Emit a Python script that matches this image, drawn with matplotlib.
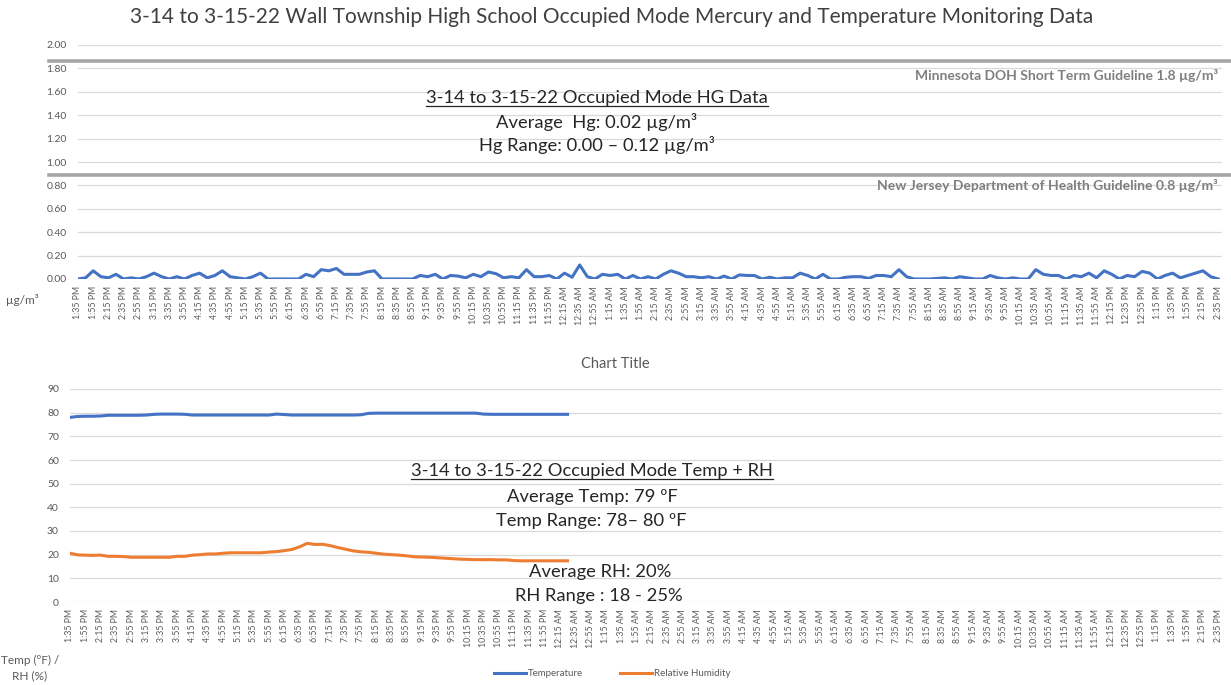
import numpy as np
import pandas as pd
import matplotlib
matplotlib.use('Agg')
import matplotlib.pyplot as plt
import matplotlib.transforms as mtransforms
from matplotlib.lines import Line2D
from matplotlib.ticker import FormatStrFormatter

plt.rcParams['font.family'] = ['Lato', 'DejaVu Sans']

# Hg readings (ug/m3), every 10 min from 1:35 PM 3-14 to 2:35 PM 3-15
hg = [0.00, 0.01, 0.07, 0.02, 0.01, 0.04, 0.00, 0.01, 0.00, 0.02,
      0.05, 0.02, 0.00, 0.02, 0.00, 0.03, 0.05, 0.01, 0.03, 0.07,
      0.02, 0.01, 0.00, 0.02, 0.05, 0.00, 0.00, 0.00, 0.00, 0.00,
      0.04, 0.02, 0.08, 0.07, 0.09, 0.04, 0.04, 0.04, 0.06, 0.07,
      0.00, 0.00, 0.00, 0.00, 0.00, 0.03, 0.02, 0.04, 0.00, 0.03,
      0.025, 0.01, 0.04, 0.02, 0.06, 0.045, 0.01, 0.02, 0.01, 0.08,
      0.02, 0.02, 0.03, 0.00, 0.05, 0.015, 0.12, 0.02, 0.00, 0.04,
      0.03, 0.04, 0.00, 0.03, 0.00, 0.02, 0.00, 0.04, 0.07, 0.05,
      0.02, 0.02, 0.01, 0.02, 0.00, 0.025, 0.00, 0.035, 0.03, 0.03,
      0.00, 0.015, 0.00, 0.01, 0.01, 0.05, 0.03, 0.00, 0.04, 0.00,
      0.00, 0.015, 0.02, 0.02, 0.005, 0.03, 0.03, 0.02, 0.08, 0.02,
      0.00, 0.00, 0.00, 0.005, 0.01, 0.00, 0.02, 0.01, 0.00, 0.00,
      0.03, 0.01, 0.00, 0.01, 0.00, 0.00, 0.08, 0.04, 0.03, 0.03,
      0.00, 0.03, 0.02, 0.05, 0.01, 0.07, 0.04, 0.00, 0.03, 0.02,
      0.065, 0.05, 0.00, 0.03, 0.05, 0.01, 0.03, 0.05, 0.07, 0.02,
      0.00]

# Temperature (F) and RH (%), same 10 min steps, logger stopped ~12:25 AM
temp = [78.0, 78.4, 78.5, 78.5, 78.6, 78.9, 78.9, 78.9, 78.9, 78.9,
        79.0, 79.3, 79.4, 79.4, 79.4, 79.3, 79.0, 79.0, 79.0, 79.0,
        79.0, 79.0, 79.0, 79.0, 79.0, 79.0, 79.0, 79.4, 79.2, 79.0,
        79.0, 79.0, 79.0, 79.0, 79.0, 79.0, 79.0, 79.0, 79.1, 79.7,
        79.8, 79.8, 79.8, 79.8, 79.8, 79.8, 79.8, 79.8, 79.8, 79.8,
        79.8, 79.8, 79.8, 79.8, 79.4, 79.3, 79.3, 79.3, 79.3, 79.3,
        79.3, 79.3, 79.3, 79.3, 79.3, 79.3]
rh = [20.6, 19.9, 19.8, 19.7, 19.8, 19.3, 19.3, 19.2, 18.9, 18.9,
      18.9, 18.9, 18.9, 18.9, 19.3, 19.3, 19.8, 20.0, 20.3, 20.3,
      20.6, 20.8, 20.8, 20.8, 20.8, 20.8, 21.1, 21.3, 21.7, 22.2,
      23.3, 24.8, 24.3, 24.4, 23.8, 23.0, 22.3, 21.6, 21.2, 21.0,
      20.6, 20.2, 20.0, 19.8, 19.5, 19.1, 19.0, 18.9, 18.7, 18.5,
      18.3, 18.1, 18.0, 17.9, 17.9, 17.9, 17.8, 17.8, 17.5, 17.4,
      17.4, 17.4, 17.4, 17.4, 17.4, 17.4]

# Category labels every 20 min
tick_labels = list(pd.date_range('2022-03-14 13:35', '2022-03-15 14:35',
                                 freq='20min').strftime('%-I:%M %p'))

guidelines = [1.8, 0.8]
guideline_labels = ['Minnesota DOH Short Term Guideline 1.8 \u00b5g/m\u00b3',
                    'New Jersey Department of Health Guideline 0.8 \u00b5g/m\u00b3']

BLUE = '#4472C4'
ORANGE = '#ED7D31'
GRID = '#D9D9D9'
TXT = '#595959'

W, H = 1231, 685
fig = plt.figure(figsize=(W / 100, H / 100), dpi=100)


def px_axes(left, top, right, bottom):
    return fig.add_axes([left / W, 1 - bottom / H, (right - left) / W, (bottom - top) / H])


def style_axis(ax, n):
    ax.set_xlim(0, n - 0.5)
    ax.set_xticks(range(0, n, 2))
    ax.set_xticklabels(tick_labels, rotation=90, fontsize=6.3, color=TXT)
    ax.tick_params(axis='both', length=0)
    ax.tick_params(axis='x', pad=5)
    ax.tick_params(axis='y', labelsize=7.5, labelcolor=TXT, pad=8)
    ax.yaxis.grid(True, color=GRID, lw=0.9)
    ax.set_axisbelow(True)
    for s in ax.spines.values():
        s.set_visible(False)


# --- Hg chart ---
ax1 = px_axes(78, 45, 1222, 279)
x = np.arange(len(hg))
ax1.plot(x, hg, color=BLUE, lw=2.2, solid_joinstyle='round')
ax1.set_ylim(0, 2)
ax1.set_yticks(np.arange(0, 2.01, 0.2))
ax1.yaxis.set_major_formatter(FormatStrFormatter('%.2f'))
style_axis(ax1, len(hg))

# guideline bars (drawn a few px above the level, as in the original)
line_shift = [7, 10]
label_shift = [-7, 0]
for lvl, lab, dy, ly in zip(guidelines, guideline_labels, line_shift, label_shift):
    tr = ax1.get_yaxis_transform() + mtransforms.ScaledTranslation(0, dy / 100, fig.dpi_scale_trans)
    ax1.plot([-0.025, 1.01], [lvl, lvl], color='#A6A6A6', lw=2.6, transform=tr, clip_on=False)
    tr2 = ax1.get_yaxis_transform() + mtransforms.ScaledTranslation(0, ly / 100, fig.dpi_scale_trans)
    ax1.text(0.9965, lvl, lab, transform=tr2, ha='right', va='center',
             fontsize=10, fontweight='bold', color='#7F7F7F')

# --- Temp / RH chart ---
ax2 = px_axes(70, 389, 1222, 602)
ax2.plot(np.arange(len(temp)), temp, color=BLUE, lw=2.2, label='Temperature')
ax2.plot(np.arange(len(rh)), rh, color=ORANGE, lw=2.2, label='Relative Humidity')
ax2.set_ylim(0, 90)
ax2.set_yticks(range(0, 91, 10))
style_axis(ax2, len(hg))

# titles and axis captions
fig.text(612 / W, 1 - 17 / H,
         '3-14 to 3-15-22 Wall Township High School Occupied Mode Mercury and Temperature Monitoring Data',
         ha='center', va='center', fontsize=15, color='#404040')
fig.text(615 / W, 1 - 364 / H, 'Chart Title', ha='center', va='center', fontsize=10.5, color=TXT)
fig.text(22 / W, 1 - 300 / H, '\u00b5g/m\u00b3', ha='center', va='center', fontsize=8.5, color=TXT)
fig.text(30 / W, 1 - 668 / H, 'Temp (\u00baF) /\nRH (%)', ha='center', va='center',
         fontsize=8.5, color=TXT, linespacing=1.5)

# summary text boxes (x centre, baseline y, text, underline)
notes = [
    (597, 103, '3-14 to 3-15-22 Occupied Mode HG Data', True),
    (597, 128, 'Average  Hg: 0.02 \u00b5g/m\u00b3', False),
    (597, 151, 'Hg Range: 0.00 \u2013 0.12 \u00b5g/m\u00b3', False),
    (592, 476, '3-14 to 3-15-22 Occupied Mode Temp + RH', True),
    (592, 502, 'Average Temp: 79 \u00baF', False),
    (591, 526, 'Temp Range: 78\u2013 80 \u00baF', False),
    (600, 577, 'Average RH: 20%', False),
    (599, 601, 'RH Range : 18 - 25%', False),
]
texts = []
for cx, by, s, ul in notes:
    t = fig.text(cx / W, 1 - by / H, s, ha='center', va='baseline', fontsize=13.2, color='#262626')
    texts.append((t, by, ul))

fig.legend(loc='center', bbox_to_anchor=(612 / W, 1 - 674 / H), ncol=2, frameon=False,
           fontsize=7, labelcolor=TXT, handlelength=3.3, handletextpad=0.2, columnspacing=3.8)

fig.canvas.draw()
for t, by, ul in texts:
    if ul:
        bb = t.get_window_extent()
        yy = 1 - (by + 3) / H
        fig.add_artist(Line2D([bb.x0 / W, bb.x1 / W], [yy, yy], color='#262626', lw=0.9))

fig.savefig('out.png', dpi=100)
